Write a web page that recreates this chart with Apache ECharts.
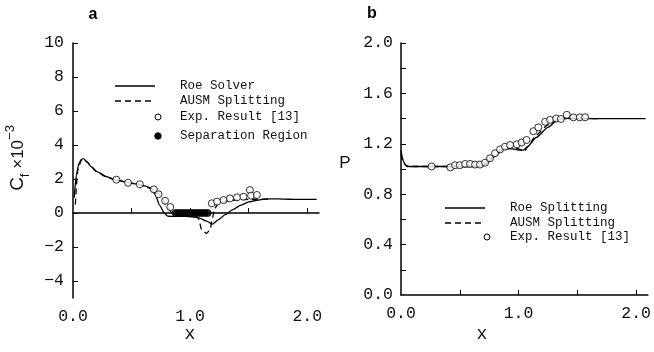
<!DOCTYPE html>
<html><head><meta charset="utf-8">
<script src="https://cdn.jsdelivr.net/npm/echarts@6/dist/echarts.min.js"></script>
<style>html,body{margin:0;padding:0;background:#fff}#c{width:654px;height:352px}</style>
</head><body><div id="c"></div>
<script>
// ---- Panel a: skin friction Cf x 10^-3 ----
const aRoeX = [0.01,0.03,0.05,0.07,0.09,0.12,0.16,0.20,0.28,0.36,0.45,0.55,0.62,0.67,0.70,0.74,0.78,0.81,0.84,0.90,0.96,1.02,1.08,1.14,1.19,1.24,1.30,1.36,1.43,1.50,1.57,1.64,1.71,1.80,1.90,2.00,2.08];
const aRoeY = [0.9,2.3,2.9,3.15,3.2,3.0,2.7,2.45,2.15,1.95,1.82,1.7,1.58,1.4,1.1,0.45,-0.02,-0.18,-0.2,-0.2,-0.2,-0.22,-0.3,-0.48,-0.65,-0.4,-0.1,0.18,0.45,0.65,0.75,0.82,0.83,0.82,0.8,0.8,0.8];
const aAusmX = [0.02,0.04,0.07,0.09,0.12,0.16,0.20,0.28,0.36,0.45,0.55,0.62,0.67,0.72,0.76,0.80,0.84,0.88,0.95,1.02,1.07,1.10,1.14,1.17,1.19,1.21,1.24,1.30,1.40,1.50,1.60,1.70];
const aAusmY = [0.5,2.5,3.1,3.2,3.0,2.7,2.45,2.15,1.95,1.82,1.7,1.58,1.45,1.2,0.85,0.4,0.05,-0.1,-0.1,-0.12,-0.3,-1.0,-1.2,-1.0,-0.3,0.27,0.57,0.7,0.78,0.8,0.82,0.82];
const aExpX = [0.37,0.47,0.57,0.69,0.73,0.786,0.83,1.185,1.23,1.285,1.34,1.40,1.455,1.51,1.52,1.57];
const aExpY = [1.96,1.78,1.69,1.39,1.1,0.72,0.35,0.57,0.67,0.76,0.86,0.92,0.96,1.35,1.02,1.06];
const aSepX = [0.875,0.90,0.925,0.95,0.975,1.0,1.025,1.05,1.075,1.10,1.125,1.15];
const aSepY = [0,0,0,0,0,0,0,0,0,0,0,0];
const aYTicks = [-4,-2,0,2,4,6,8,10];
const xTicks = [0.5,1.0,1.5,2.0];
const xLabels = [0,1,2];

// ---- Panel b: pressure P ----
const bRoeX = [0.0,0.01,0.02,0.04,0.07,0.10,0.20,0.40,0.60,0.70,0.75,0.80,0.87,0.95,1.00,1.04,1.08,1.15,1.25,1.32,1.38,1.45,1.60,1.80,2.00,2.08];
const bRoeY = [1.15,1.1,1.06,1.03,1.02,1.02,1.02,1.02,1.02,1.025,1.06,1.1,1.16,1.16,1.15,1.15,1.18,1.25,1.33,1.38,1.405,1.40,1.40,1.40,1.40,1.40];
const bAusmX = [0.0,0.02,0.05,0.10,0.30,0.60,0.70,0.75,0.80,0.87,0.95,1.00,1.05,1.08,1.15,1.25,1.32,1.40,1.60,1.70];
const bAusmY = [1.12,1.05,1.02,1.02,1.02,1.02,1.03,1.07,1.12,1.16,1.17,1.16,1.14,1.18,1.27,1.35,1.39,1.40,1.40,1.40];
const bExpX = [0.26,0.42,0.46,0.50,0.545,0.587,0.63,0.672,0.715,0.757,0.80,0.843,0.885,0.928,0.985,1.026,1.068,1.126,1.168,1.226,1.268,1.32,1.36,1.41,1.466,1.52,1.566];
const bExpY = [1.02,1.013,1.03,1.03,1.04,1.04,1.035,1.035,1.05,1.085,1.125,1.156,1.177,1.19,1.196,1.21,1.23,1.30,1.33,1.375,1.39,1.40,1.397,1.43,1.41,1.41,1.41];
const bYTicks = [0.2,0.4,0.6,0.8,1.0,1.2,1.4,1.6,1.8,2.0];
const bYLabels = [0.0,0.4,0.8,1.2,1.6,2.0];

const zip = (xs, ys) => xs.map((x, i) => [x, ys[i]]);
const FONT = 'Liberation Mono';
const axisLine = {show:true, lineStyle:{color:'#000', width:1.5}};
const tick = (vals) => ({show:true, inside:true, length:5, lineStyle:{color:'#000', width:1}, customValues: vals});
const lab = (vals, fmt, margin) => ({customValues: vals, formatter: fmt, color:'#111', fontFamily: FONT, fontSize:16.5, margin: margin});

const lineS = (name, data, xi, dashed) => ({
  name, type:'line', xAxisIndex:xi, yAxisIndex:xi, data, showSymbol:false, smooth:0.2, smoothMonotone:'x',
  lineStyle:{color:'#000', width:1.3, type: dashed ? [6,4] : 'solid'}, z:3, silent:true
});
const scatS = (name, data, xi, filled) => ({
  name, type:'scatter', xAxisIndex:xi, yAxisIndex:xi, data, symbol:'circle', symbolSize:7,
  itemStyle:{color: filled ? '#000' : '#fff', borderColor:'#000', borderWidth:1}, z:4, silent:true
});

const txt = (x, y, text, extra) => Object.assign({type:'text', x, y, style:Object.assign({text, fill:'#111', font:'12.5px "' + FONT + '"', align:'left', verticalAlign:'middle'}, extra||{})});

const option = {
  animation:false,
  backgroundColor:'#fff',
  grid:[
    {left:73, top:43, width:246, height:255},
    {left:401, top:43, width:247, height:252}
  ],
  xAxis:[
    {gridIndex:0, type:'value', min:0, max:2.1, axisLine, axisTick:tick(xTicks), axisLabel:lab(xLabels, v=>v.toFixed(1), 10), splitLine:{show:false}},
    {gridIndex:1, type:'value', min:0, max:2.1, axisLine, axisTick:tick(xTicks), axisLabel:lab(xLabels, v=>v.toFixed(1), 10), splitLine:{show:false}}
  ],
  yAxis:[
    {gridIndex:0, type:'value', min:-5, max:10, axisLine, axisTick:tick(aYTicks), axisLabel:lab(aYTicks, v=> v<0 ? '\u2212'+Math.abs(v) : String(v), 9), splitLine:{show:false}},
    {gridIndex:1, type:'value', min:0, max:2, axisLine, axisTick:tick(bYTicks), axisLabel:lab(bYLabels, v=>v.toFixed(1), 8), splitLine:{show:false}}
  ],
  series:[
    lineS('Roe Solver', zip(aRoeX, aRoeY), 0, false),
    lineS('AUSM Splitting', zip(aAusmX, aAusmY), 0, true),
    scatS('Exp. Result [13]', zip(aExpX, aExpY), 0, false),
    scatS('Separation Region', zip(aSepX, aSepY), 0, true),
    lineS('Roe Splitting', zip(bRoeX, bRoeY), 1, false),
    lineS('AUSM Splitting', zip(bAusmX, bAusmY), 1, true),
    scatS('Exp. Result [13]', zip(bExpX, bExpY), 1, false)
  ],
  graphic:[
    // panel titles
    {type:'text', x:93, y:15, style:{text:'a', font:'bold 16px "Liberation Sans"', fill:'#000', align:'center', verticalAlign:'middle'}},
    {type:'text', x:372, y:14, style:{text:'b', font:'bold 16px "Liberation Sans"', fill:'#000', align:'center', verticalAlign:'middle'}},
    // axis titles
    {type:'text', x:18, y:158, rotation:Math.PI/2, style:{
      text:'{n|C}{s|f}{m| \u00d710}{p|\u22123}', align:'center', verticalAlign:'middle', fill:'#111',
      rich:{ n:{fontSize:19, fontFamily:'Liberation Sans', lineHeight:28, verticalAlign:'middle'},
             s:{fontSize:13, fontFamily:'Liberation Sans', verticalAlign:'bottom'},
             m:{fontSize:17, fontFamily:'Liberation Sans', verticalAlign:'middle'},
             p:{fontSize:13, fontFamily:'Liberation Sans', verticalAlign:'top'} }}},
    {type:'text', x:345, y:163, style:{text:'P', font:'17px "Liberation Sans"', fill:'#111', align:'center', verticalAlign:'middle'}},
    {type:'text', x:190, y:334, style:{text:'x', font:'18px "Liberation Mono"', fill:'#111', align:'center', verticalAlign:'middle'}},
    {type:'text', x:482, y:334, style:{text:'x', font:'18px "Liberation Mono"', fill:'#111', align:'center', verticalAlign:'middle'}},
    // legend a
    {type:'line', shape:{x1:115, y1:86, x2:155, y2:86}, style:{stroke:'#000', lineWidth:1.3}},
    {type:'line', shape:{x1:115, y1:101, x2:155, y2:101}, style:{stroke:'#000', lineWidth:1.3, lineDash:[6,4]}},
    {type:'circle', shape:{cx:158, cy:117, r:3}, style:{fill:'#fff', stroke:'#000', lineWidth:1}},
    {type:'circle', shape:{cx:158, cy:136, r:3.2}, style:{fill:'#000', stroke:'#000', lineWidth:1}},
    txt(180, 86, 'Roe Solver'),
    txt(180, 101, 'AUSM Splitting'),
    txt(180, 117, 'Exp. Result [13]'),
    txt(180, 136, 'Separation Region'),
    // legend b
    {type:'line', shape:{x1:445, y1:208, x2:485, y2:208}, style:{stroke:'#000', lineWidth:1.3}},
    {type:'line', shape:{x1:445, y1:223, x2:485, y2:223}, style:{stroke:'#000', lineWidth:1.3, lineDash:[6,4]}},
    {type:'circle', shape:{cx:487, cy:237, r:3}, style:{fill:'#fff', stroke:'#000', lineWidth:1}},
    txt(510, 208, 'Roe Splitting'),
    txt(510, 223, 'AUSM Splitting'),
    txt(510, 237, 'Exp. Result [13]')
  ]
};
const chart = echarts.init(document.getElementById('c'), null, {renderer:'canvas'});
chart.setOption(option);
</script>
</body></html>
